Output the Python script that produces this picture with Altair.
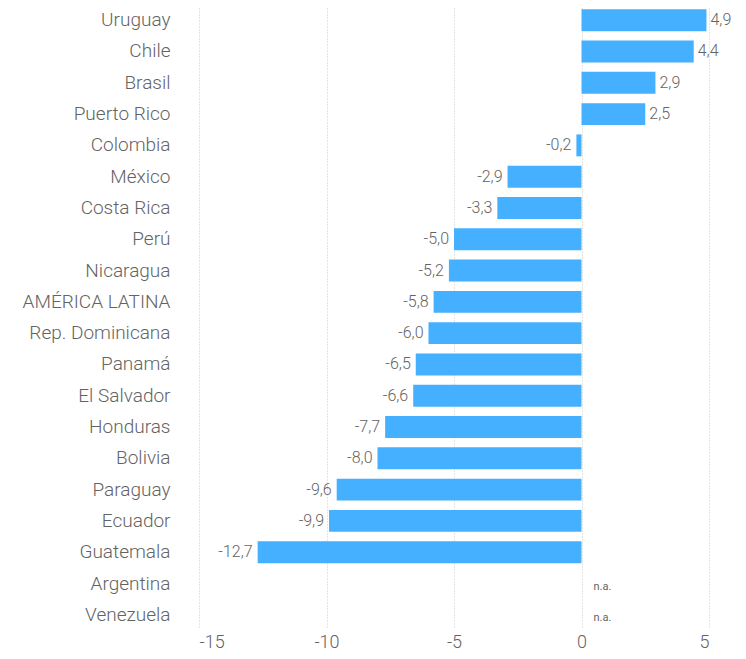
import altair as alt
import pandas as pd

countries = ["Uruguay", "Chile", "Brasil", "Puerto Rico", "Colombia", "México",
             "Costa Rica", "Perú", "Nicaragua", "AMÉRICA LATINA", "Rep. Dominicana",
             "Panamá", "El Salvador", "Honduras", "Bolivia", "Paraguay", "Ecuador",
             "Guatemala", "Argentina", "Venezuela"]
values = [4.9, 4.4, 2.9, 2.5, -0.2, -2.9, -3.3, -5.0, -5.2, -5.8, -6.0, -6.5,
          -6.6, -7.7, -8.0, -9.6, -9.9, -12.7, None, None]
x_ticks = [-15, -10, -5, 0, 5]

rows = []
for c, v in zip(countries, values):
    if v is None:
        rows.append({"country": c, "value": None, "label": "", "na": "n.a.", "zero": 0})
    else:
        rows.append({"country": c, "value": v,
                     "label": f"{v:.1f}".replace(".", ","), "na": "", "zero": 0})
df = pd.DataFrame(rows)

FONT = "Roboto"
GREY = "#636363"

y_enc = alt.Y("country:N", sort=countries, title=None,
              scale=alt.Scale(paddingInner=0.3, paddingOuter=0.04),
              axis=alt.Axis(domain=False, ticks=False, labelPadding=29,
                            labelFontSize=19, labelColor=GREY, labelFont=FONT,
                            labelFontWeight=300, grid=False))
x_scale = alt.Scale(domain=[-15, 5], nice=False, zero=True)

base = alt.Chart(df)

bars = base.mark_bar(color="#45B0FF").encode(
    x=alt.X("value:Q", scale=x_scale, title=None,
            axis=alt.Axis(values=x_ticks, domain=False, ticks=False,
                          labelFontSize=18, labelColor=GREY, labelFont=FONT,
                          labelFontWeight=300, labelPadding=6, labelExpr="datum.value",
                          grid=True, gridColor="#c8c8c8", gridDash=[1, 2])),
    x2=alt.X2("zero:Q"),
    y=y_enc,
)

pos_labels = base.transform_filter("datum.value >= 0").mark_text(
    align="left", dx=4, fontSize=16, color=GREY, font=FONT, fontWeight=300
).encode(x=alt.X("value:Q", scale=x_scale), y=alt.Y("country:N", sort=countries), text="label:N")

neg_labels = base.transform_filter("datum.value < 0").mark_text(
    align="right", dx=-5, fontSize=16, color=GREY, font=FONT, fontWeight=300
).encode(x=alt.X("value:Q", scale=x_scale), y=alt.Y("country:N", sort=countries), text="label:N")

na_labels = base.transform_filter("datum.na != ''").mark_text(
    align="left", dx=12, dy=3, fontSize=11, color=GREY, font=FONT
).encode(x=alt.X("zero:Q", scale=x_scale), y=alt.Y("country:N", sort=countries), text="na:N")

chart = alt.layer(bars, pos_labels, neg_labels, na_labels).properties(
    width=510, height=619,
    autosize=alt.AutoSizeParams(type="none"),
    padding={"left": 191, "top": 0, "right": 29, "bottom": 24},
).configure_view(stroke=None)

chart.save("out.html", embed_options={"renderer": "svg", "actions": False})
